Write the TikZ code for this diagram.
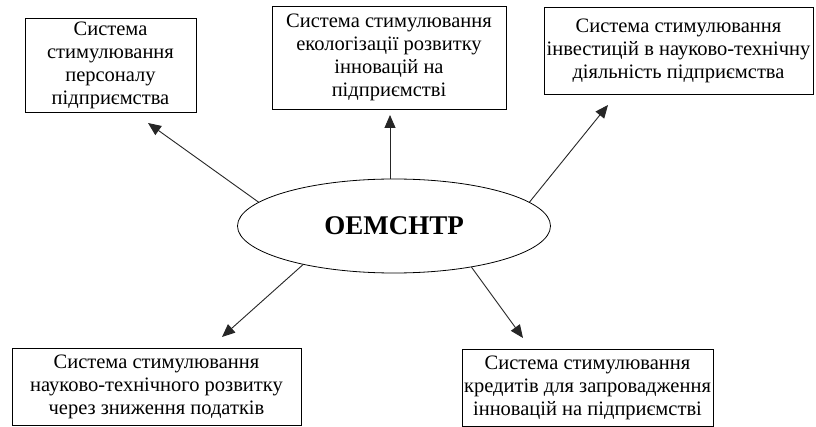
\documentclass[tikz,border=0pt]{standalone}
\usepackage{fontspec}
\setmainfont{Liberation Serif}
\usetikzlibrary{shapes.geometric,arrows.meta}

\begin{document}
\begin{tikzpicture}[x=1pt, y=-1pt,
  every node/.style={font=\fontsize{20.5}{23}\selectfont, align=center, inner sep=0pt},
  box/.style={draw, line width=0.8pt, rectangle},
  link/.style={-{Triangle[length=13pt, width=11pt]}, line width=0.9pt, draw=black!85}]
  \clip (0,0) rectangle (816,427);
  \fill[white] (0,0) rectangle (816,427);

  \node[draw, ellipse, line width=0.8pt, minimum width=313pt, minimum height=94pt,
        font=\fontsize{27}{30}\selectfont\bfseries] (oem) at (394,226) {ОЕМСНТР};

  \node[box, minimum width=171pt, minimum height=94pt] (staff) at (110.5,65)
    {Система\\стимулювання\\персоналу\\підприємства};
  \node[box, minimum width=234pt, minimum height=103pt] (eco) at (389,57.5)
    {Система стимулювання\\екологізації розвитку\\інновацій на\\підприємстві};
  \node[box, minimum width=269pt, minimum height=87pt] (invest) at (678.5,50.5)
    {Система стимулювання\\інвестицій в науково-технічну\\діяльність підприємства};
  \node[box, minimum width=289pt, minimum height=77pt] (tax) at (156.5,386.5)
    {Система стимулювання\\науково-технічного розвитку\\через зниження податків};
  \node[box, minimum width=251pt, minimum height=77pt] (credit) at (587.5,387.5)
    {Система стимулювання\\кредитів для запровадження\\інновацій на підприємстві};

  % arrow tips below the boxes
  \coordinate (tstaff) at (148,123);
  \coordinate (teco) at (390,115);
  \coordinate (tinvest) at (608,105);
  \coordinate (ttax) at (222,337);
  \coordinate (tcredit) at (523,338);

  \draw[link] (oem.170) -- (tstaff);
  \draw[link] (oem.north -| teco) -- (teco);
  \draw[link] (oem.10) -- (tinvest);
  \draw[link] (oem.203) -- (ttax);
  \draw[link] (oem.332) -- (tcredit);
\end{tikzpicture}
\end{document}
